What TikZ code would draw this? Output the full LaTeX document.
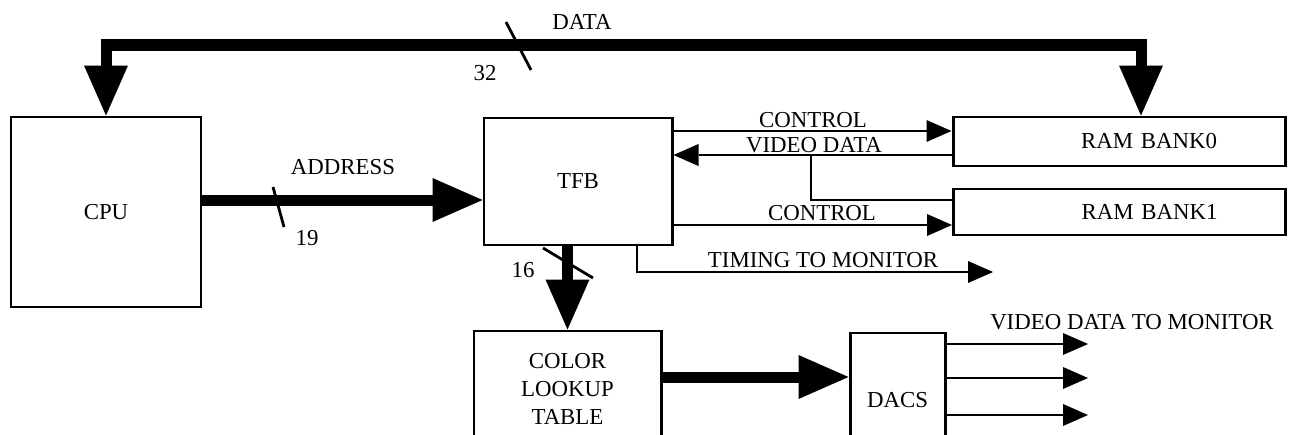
\documentclass[tikz,border=0pt]{standalone}
\usepackage{fontspec}
\setmainfont{Liberation Serif}
\usetikzlibrary{arrows.meta}

\tikzset{
  BigHead/.tip={Triangle[length=1cm,width=0.88cm,line width=0pt]},
  SmallHead/.tip={Triangle[length=0.5cm,width=0.44cm,line width=0pt]},
}

\begin{document}
\begin{tikzpicture}[font=\fontsize{13}{16}\selectfont, line width=1.6pt,
  box/.style={draw,line width=1.7pt,inner sep=0pt,align=center},
  ram/.style={box,text width=3.92cm,inner xsep=1.36cm,align=right},
  bus/.style={line width=0.22cm}]

\useasboundingbox (0,0) rectangle (25.8,8.68);
\clip (0,0) rectangle (25.8,8.68);

\node[box,minimum width=3.8cm,minimum height=3.8cm] (cpu) at (2.12,4.44) {CPU};
\node[box,minimum width=3.76cm,minimum height=2.54cm] (tfb) at (11.56,5.05) {TFB};
\node[ram,minimum height=0.98cm] (bank0) at (22.38,5.85) {RAM BANK0};
\node[ram,minimum height=0.92cm] (bank1) at (22.39,4.44) {RAM BANK1};
\node[box,minimum width=3.74cm,minimum height=2.32cm] (lut) at (11.35,0.9) {COLOR\\LOOKUP\\TABLE};
\node[box,minimum width=1.9cm,minimum height=2.68cm] (dacs) at (17.95,0.68) {DACS};

% buses
\coordinate (busR) at (22.82,7.78);
\coordinate (addr) at (0,4.68);
\coordinate (lutout) at (0,1.14);
\draw[bus,BigHead-BigHead] (cpu.north) |- (busR) -- (busR |- bank0.north);
\draw[bus,-BigHead] (addr -| cpu.east) -- (addr -| tfb.west);
\draw[bus,-BigHead] (lut.north |- tfb.south) -- (lut.north);
\draw[bus,-BigHead] (lutout -| lut.east) -- (lutout -| dacs.west);

% bus widths
\draw (10.12,8.24) -- (10.62,7.28);
\draw (5.46,4.94) -- (5.68,4.14);
\draw (10.86,3.72) -- (11.86,3.12);
\node (n32) at (9.7,7.22) {32};
\node (n19) at (6.14,3.92) {19};
\node (n16) at (10.46,3.28) {16};
\node (datalbl) at (11.64,8.24) {DATA};
\node (addrlbl) at (6.86,5.34) {ADDRESS};

% TFB <-> RAM
\coordinate (ctrl0) at (0,6.06);
\coordinate (vid) at (0,5.58);
\coordinate (vidtap) at (16.22,5.58);
\coordinate (ctrl1) at (0,4.18);
\draw[-SmallHead] (ctrl0 -| tfb.east) -- (ctrl0 -| bank0.west);
\draw[-SmallHead] (vid -| bank0.west) -- (vid -| tfb.east);
\draw (vidtap) |- ([yshift=0.24cm]bank1.west);
\draw[-SmallHead] (ctrl1 -| tfb.east) -- (ctrl1 -| bank1.west);
\node (ctrl0lbl) at (16.26,6.28) {CONTROL};
\node (vidlbl) at (16.28,5.78) {VIDEO DATA};
\node (ctrl1lbl) at (16.44,4.42) {CONTROL};

% timing
\coordinate (timtap) at (12.74,0);
\coordinate (timing) at (19.86,3.24);
\draw[-SmallHead] (tfb.south -| timtap) |- (timing);
\node (timlbl) at (16.46,3.48) {TIMING TO MONITOR};

% DAC outputs
\coordinate (mon) at (21.76,0);
\foreach \y in {1.8,1.12,0.38}
  \draw[-SmallHead] (dacs.east |- 0,\y) -- (mon |- 0,\y);
\node (vidmonlbl) at (22.64,2.24) {VIDEO DATA TO MONITOR};
\end{tikzpicture}
\end{document}
